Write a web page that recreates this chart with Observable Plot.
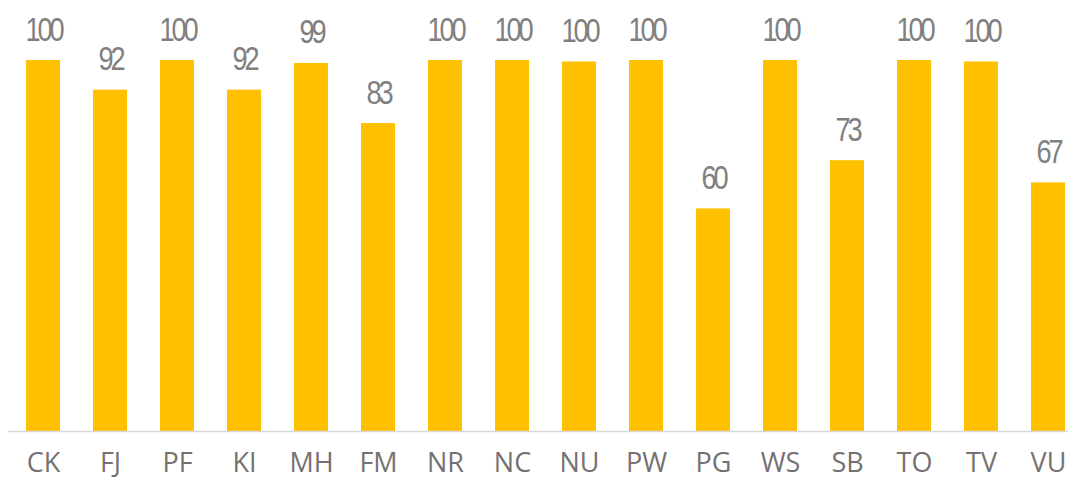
<!DOCTYPE html>
<html>
<head>
<meta charset="utf-8">
<script src="https://cdn.jsdelivr.net/npm/d3@7"></script>
<script src="https://cdn.jsdelivr.net/npm/@observablehq/plot@0.6"></script>
<style>
  html, body { margin: 0; padding: 0; background: #fff; }
  #chart svg { display: block; }
  .vlabel text { letter-spacing: -4px; }
</style>
</head>
<body>
<div id="chart"></div>
<script>
const categories = ["CK","FJ","PF","KI","MH","FM","NR","NC","NU","PW","PG","WS","SB","TO","TV","VU"];
const values = [100, 92, 100, 92, 99.2, 83, 100, 100, 99.6, 100, 60, 100, 73, 100, 99.6, 67];
const labels = ["100","92","100","92","99","83","100","100","100","100","60","100","73","100","100","67"];

const data = categories.map((c, i) => ({cat: c, value: values[i], label: labels[i]}));

const chart = Plot.plot({
  width: 1068,
  height: 477,
  marginLeft: 8,
  marginRight: 0,
  marginTop: 0,
  marginBottom: 46,
  style: {fontFamily: "'Open Sans', sans-serif", background: "#fff"},
  x: {domain: categories, range: [25, 1066], paddingInner: 0.49, paddingOuter: 0, axis: null},
  y: {domain: [0, 100], range: [431, 60], axis: null},
  marks: [
    Plot.barY(data, {x: "cat", y: "value", fill: "#FFC000"}),
    Plot.ruleY([0], {stroke: "#d9d9d9", strokeWidth: 1.5}),
    Plot.text(data, {
      x: "cat", y: "value", text: "label",
      dy: -20, lineAnchor: "bottom",
      fontSize: 34, fill: "#808080",
      fontFamily: "'Liberation Sans', Arial, sans-serif",
      className: "vlabel"
    }),
    Plot.axisX({
      tickSize: 0, tickPadding: 21, fontSize: 27, fill: "#767171",
      label: null
    })
  ]
});
// horizontally condense the value labels around their anchor point
chart.querySelectorAll(".vlabel text").forEach(t => {
  const x = +(t.getAttribute("x") || 0);
  const y = +(t.getAttribute("y") || 0);
  const tr = t.getAttribute("transform") || "";
  t.setAttribute("x", 0);
  t.setAttribute("y", 0);
  t.setAttribute("transform", `${tr} translate(${x},${y}) scale(0.8,1)`);
});
document.getElementById("chart").appendChild(chart);
</script>
</body>
</html>
